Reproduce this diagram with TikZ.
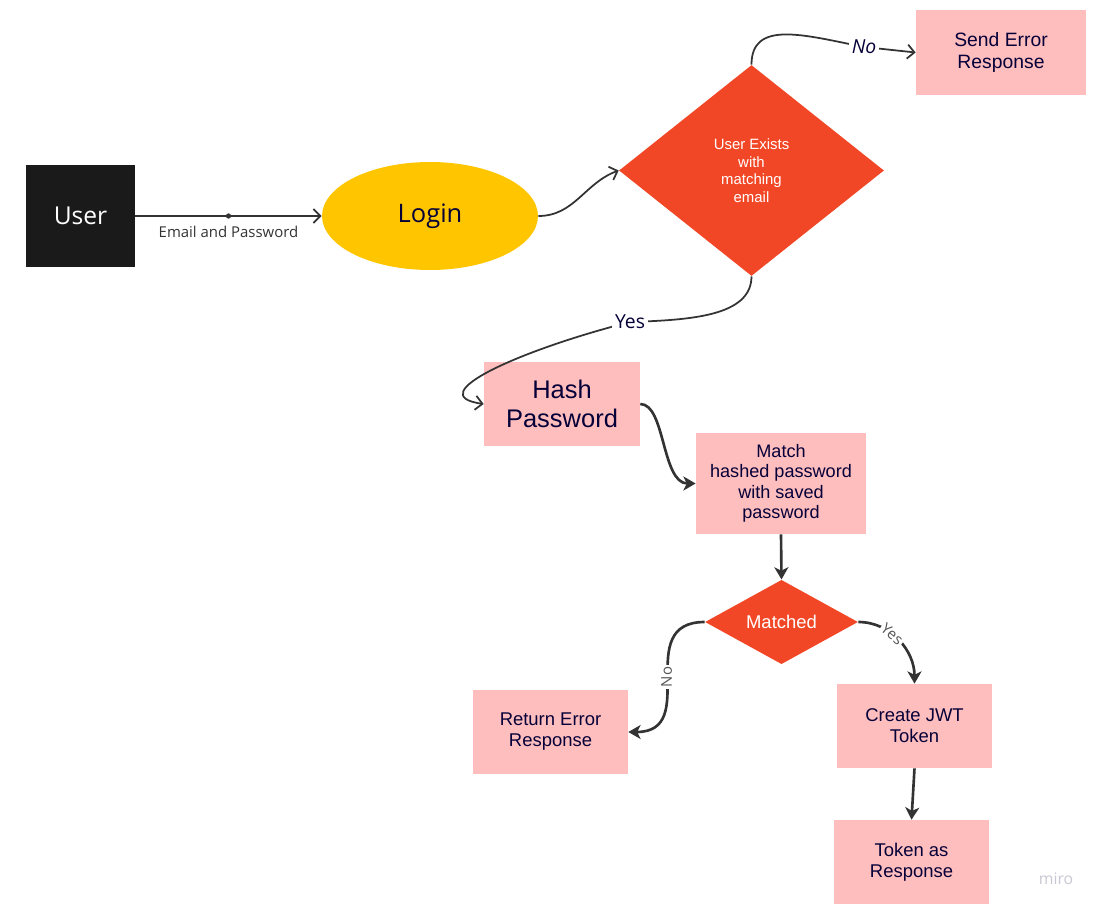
\documentclass[tikz,border=0pt]{standalone}
\usepackage{fontspec}
\setmainfont{Liberation Sans}
\newfontfamily\opensans{Open Sans}
\usetikzlibrary{shapes.geometric, arrows.meta}

\definecolor{userblack}{HTML}{1A1A1A}
\definecolor{loginyellow}{HTML}{FFC600}
\definecolor{decred}{HTML}{F24726}
\definecolor{boxpink}{HTML}{FFBEBE}
\definecolor{inkblue}{HTML}{050038}
\definecolor{linegray}{HTML}{333333}
\definecolor{smallgray}{HTML}{555555}
\definecolor{mirogray}{HTML}{C8C8D4}

\tikzset{
	box/.style={rectangle, fill=boxpink, text=inkblue, align=center, inner sep=0pt, font=\fontsize{10.5}{12}\selectfont},
	decision/.style={diamond, fill=decred, text=white, align=center, inner sep=0pt},
	thinflow/.style={draw=linegray, line width=1pt, -{Straight Barb[length=4pt,width=8pt]}},
	flow/.style={draw=linegray, line width=1.5pt, -{Stealth[length=7pt,width=8pt,inset=2pt]}},
	toplbl/.style={fill=white, text=inkblue, inner sep=1.5pt, font=\opensans\fontsize{11}{13}\selectfont},
	smalllbl/.style={fill=white, text=smallgray, inner sep=1pt, font=\opensans\fontsize{8.5}{10}\selectfont},
	elabel/.style={text=linegray, inner sep=0pt, font=\opensans\fontsize{8.5}{10}\selectfont},
	dot/.style={circle, fill=linegray, inner sep=0pt, minimum size=3pt}
}

\begin{document}
\begin{tikzpicture}[x=0.02cm, y=0.02cm]
	\useasboundingbox (0,0) rectangle (1099,-909);

	%start
	\node[rectangle, fill=userblack, text=white, minimum width=2.18cm, minimum height=2.04cm, font=\opensans\fontsize{14}{16}\selectfont] (user) at (80.5,-216) {User};
	\node[ellipse, fill=loginyellow, text=inkblue, minimum width=4.32cm, minimum height=2.16cm, inner sep=0pt, font=\opensans\fontsize{14.5}{16}\selectfont] (login) at (430,-216) {Login};

	%decisions
	\node[decision, minimum width=5.3cm, minimum height=4.22cm, font=\fontsize{8.5}{10}\selectfont] (chk) at (751.5,-170.5) {User Exists\\with\\matching\\email};
	\node[decision, minimum width=3.06cm, minimum height=1.68cm, font=\fontsize{10.5}{12}\selectfont] (mtc) at (781.5,-622) {Matched};

	%boxes
	\node[box, minimum width=3.4cm, minimum height=1.7cm, font=\fontsize{11}{12.5}\selectfont] (send) at (1001,-52.5) {Send Error\\Response};
	\node[box, minimum width=3.12cm, minimum height=1.68cm, font=\fontsize{14.5}{16.5}\selectfont] (hash) at (562,-404) {Hash\\Password};
	\node[box, minimum width=3.4cm, minimum height=2.02cm, font=\fontsize{10.3}{11.6}\selectfont] (match) at (781,-483.5) {Match\\hashed password\\with saved\\password};
	\node[box, minimum width=3.1cm, minimum height=1.68cm] (reterr) at (550.5,-732) {Return Error\\Response};
	\node[box, minimum width=3.1cm, minimum height=1.68cm] (jwt) at (914.5,-726) {Create JWT\\Token};
	\node[box, minimum width=3.1cm, minimum height=1.68cm] (tok) at (911.5,-862) {Token as\\Response};

	%connectors - top
	\draw[thinflow] (user.east) -- node[dot]{} node[below=5pt, elabel]{Email and Password} (login.west);
	\draw[thinflow] (login.east) to[out=0, in=200] (chk.west);
	\coordinate (no) at (864,-47);
	\draw[thinflow] (chk.north) .. controls +(0,45) and +(-60,12) .. (no) node[toplbl]{\itshape No} -- (send.west);
	\coordinate (yes) at (630,-322);
	\draw[thinflow] (chk.south) .. controls +(0,-40) and +(60,2) .. (yes) node[toplbl]{Yes}
		.. controls (520,-350) and (420,-395) .. (hash.west);

	%connectors - bottom
	\draw[flow] (hash.east) .. controls +(25,0) and +(-34,0) .. (match.west);
	\draw[flow] (match.south) -- (mtc.north);
	\draw[flow] (mtc.west) to[out=180, in=0, looseness=1.4] node[smalllbl, rotate=90]{No} (reterr.east);
	\draw[flow] (mtc.east) to[out=0, in=90] node[pos=0.4, sloped, smalllbl]{Yes} (jwt.north);
	\draw[flow] (jwt.south) -- (tok.north);

	%watermark
	\node[text=mirogray, font=\opensans\fontsize{9}{10}\selectfont] (miro) at (1056,-879) {miro};
\end{tikzpicture}
\end{document}
